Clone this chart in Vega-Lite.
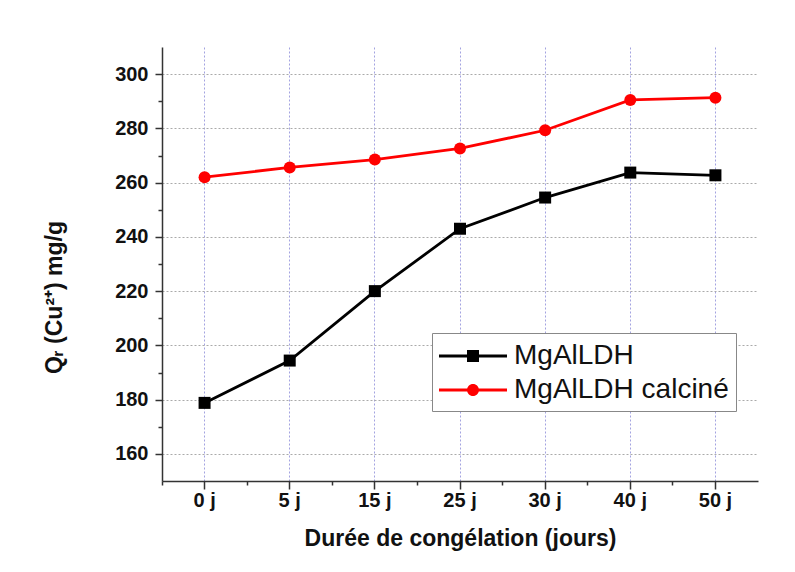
{
  "$schema": "https://vega.github.io/schema/vega-lite/v6.json",
  "width": 596,
  "height": 434,
  "autosize": "none",
  "padding": {"left": 162, "top": 47, "right": 37, "bottom": 91},
  "background": "white",
  "config": {"font": "Liberation Sans", "view": {"stroke": null}},
  "data": {
    "values": [
      {"duree": "0 j", "serie": "MgAlLDH", "q": 178.8},
      {"duree": "5 j", "serie": "MgAlLDH", "q": 194.4},
      {"duree": "15 j", "serie": "MgAlLDH", "q": 220.0},
      {"duree": "25 j", "serie": "MgAlLDH", "q": 243.0},
      {"duree": "30 j", "serie": "MgAlLDH", "q": 254.5},
      {"duree": "40 j", "serie": "MgAlLDH", "q": 263.7},
      {"duree": "50 j", "serie": "MgAlLDH", "q": 262.7},
      {"duree": "0 j", "serie": "MgAlLDH calciné", "q": 262.0},
      {"duree": "5 j", "serie": "MgAlLDH calciné", "q": 265.6},
      {"duree": "15 j", "serie": "MgAlLDH calciné", "q": 268.5},
      {"duree": "25 j", "serie": "MgAlLDH calciné", "q": 272.6},
      {"duree": "30 j", "serie": "MgAlLDH calciné", "q": 279.3},
      {"duree": "40 j", "serie": "MgAlLDH calciné", "q": 290.5},
      {"duree": "50 j", "serie": "MgAlLDH calciné", "q": 291.3}
    ]
  },
  "layer": [
    {
      "mark": {"type": "line", "strokeWidth": 2.8},
      "encoding": {
        "x": {
          "field": "duree", "type": "ordinal",
          "sort": ["0 j", "5 j", "15 j", "25 j", "30 j", "40 j", "50 j"],
          "scale": {"type": "band", "paddingInner": 0, "paddingOuter": 0},
          "axis": {
            "title": "Durée de congélation (jours)", "bandPosition": 0.5, "labelAngle": 0,
            "labelFontSize": 20, "labelFontWeight": "bold", "labelColor": "#111111", "labelPadding": 1,
            "tickSize": 8, "tickColor": "#333333", "tickWidth": 1.5,
            "domainColor": "#333333", "domainWidth": 1.5,
            "grid": true, "gridColor": "#a3a3e0", "gridDash": [2, 2], "gridWidth": 1,
            "titleFontSize": 23, "titleFontWeight": "bold", "titlePadding": 17, "titleColor": "#111111"
          }
        },
        "y": {
          "field": "q", "type": "quantitative",
          "scale": {"domain": [150, 310], "nice": false, "zero": false},
          "axis": {
            "title": "Qᵣ (Cu²⁺) mg/g", "values": [160, 180, 200, 220, 240, 260, 280, 300],
            "labelFontSize": 20, "labelFontWeight": "bold", "labelColor": "#111111", "labelPadding": 7,
            "tickSize": 7, "tickColor": "#333333", "tickWidth": 1.5,
            "domainColor": "#333333", "domainWidth": 1.5,
            "grid": true, "gridColor": "#aaaaaa", "gridDash": [2, 2], "gridWidth": 1,
            "titleFontSize": 23, "titleFontWeight": "bold", "titleColor": "#111111",
            "titleX": -96, "titleY": 250
          }
        },
        "color": {
          "field": "serie", "type": "nominal",
          "scale": {"domain": ["MgAlLDH", "MgAlLDH calciné"], "range": ["#000000", "#ff0000"]},
          "legend": null
        }
      }
    },
    {
      "mark": {"type": "point", "filled": true, "size": 144, "opacity": 1},
      "encoding": {
        "x": {
          "field": "duree", "type": "ordinal",
          "sort": ["0 j", "5 j", "15 j", "25 j", "30 j", "40 j", "50 j"],
          "axis": {
            "orient": "bottom", "bandPosition": 0, "labels": false, "ticks": true,
            "tickSize": 4, "tickColor": "#333333", "tickWidth": 1.5,
            "domain": false, "grid": false, "title": null
          }
        },
        "y": {
          "field": "q", "type": "quantitative",
          "axis": {
            "orient": "left", "values": [170, 190, 210, 230, 250, 270, 290], "labels": false,
            "tickSize": 4, "tickColor": "#333333", "tickWidth": 1.5,
            "domain": false, "grid": false, "title": null
          }
        },
        "color": {"field": "serie", "type": "nominal", "legend": null},
        "shape": {
          "field": "serie", "type": "nominal",
          "scale": {"domain": ["MgAlLDH", "MgAlLDH calciné"], "range": ["square", "circle"]},
          "legend": null
        }
      }
    },
    {
      "mark": {"type": "point", "filled": true, "size": 1024, "opacity": 0},
      "encoding": {
        "x": {"field": "duree", "type": "ordinal", "sort": ["0 j", "5 j", "15 j", "25 j", "30 j", "40 j", "50 j"], "axis": null},
        "y": {"field": "q", "type": "quantitative", "axis": null},
        "fill": {
          "field": "serie", "type": "nominal",
          "scale": {"domain": ["MgAlLDH", "MgAlLDH calciné"], "range": ["#000000", "#ff0000"]},
          "legend": {
            "orient": "none", "legendX": 270, "legendY": 286, "title": null,
            "labelFontSize": 28, "labelColor": "#111111", "labelOffset": 43, "labelLimit": 500,
            "symbolSize": 1024, "symbolStrokeWidth": 0, "symbolOpacity": 1, "symbolFillColor": "#000000",
            "rowPadding": 4, "padding": 7,
            "strokeColor": "#888888", "fillColor": "#ffffff"
          }
        },
        "shape": {
          "field": "serie", "type": "nominal",
          "scale": {"domain": ["MgAlLDH", "MgAlLDH calciné"], "range": ["M-1,-0.09H3.25V0.09H-1Z M0.75,-0.375H1.5V0.375H0.75Z", "M-1,-0.09H3.25V0.09H-1Z M0.75,0A0.375,0.375 0 1,1 1.5,0A0.375,0.375 0 1,1 0.75,0Z"]},
          "legend": {
            "orient": "none", "legendX": 270, "legendY": 286, "title": null,
            "labelFontSize": 28, "labelColor": "#111111", "labelOffset": 43, "labelLimit": 500,
            "symbolSize": 1024, "symbolStrokeWidth": 0, "symbolOpacity": 1, "symbolFillColor": "#000000",
            "rowPadding": 4, "padding": 7,
            "strokeColor": "#888888", "fillColor": "#ffffff"
          }
        }
      }
    }
  ],
  "resolve": {"axis": {"x": "independent", "y": "independent"}, "scale": {"shape": "independent", "fill": "independent"}}
}
